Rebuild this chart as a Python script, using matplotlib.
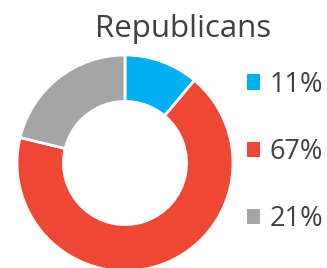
import matplotlib
matplotlib.use("Agg")
import matplotlib.pyplot as plt

labels = ["11%", "67%", "21%"]
values = [11, 67, 21]
colors = ["#00B0F0", "#EE4733", "#A5A5A5"]

plt.rcParams["font.family"] = ["Open Sans", "DejaVu Sans"]
TXT = "#404040"

fig = plt.figure(figsize=(3.27, 2.68), dpi=100)
# pie axes: centre ~ (125, 163) px from top, radius ~108 px
ax = fig.add_axes([(125 - 108) / 327, (105 - 108) / 268, 216 / 327, 216 / 268])
wedges, _ = ax.pie(values, colors=colors, startangle=90, counterclock=False,
                   radius=1.0, wedgeprops=dict(width=0.43, edgecolor="white", linewidth=2))
ax.set_xlim(-1, 1); ax.set_ylim(-1, 1)
ax.set_aspect("equal")
for w in wedges:
    w.set_clip_on(False)

fig.text(183 / 327, 1 - 29 / 268, "Republicans", ha="center", va="center",
         fontsize=22.5, color=TXT)

leg = fig.legend(wedges, labels, loc="center left", bbox_to_anchor=(236 / 327, 1 - 152 / 268),
                 frameon=False, fontsize=19.5, labelcolor=TXT, handlelength=0.5, handleheight=0.5,
                 handletextpad=0.35, labelspacing=1.45, borderaxespad=0)
for h in leg.legend_handles:
    h.set_edgecolor("none")

fig.savefig("out.png", dpi=100)
